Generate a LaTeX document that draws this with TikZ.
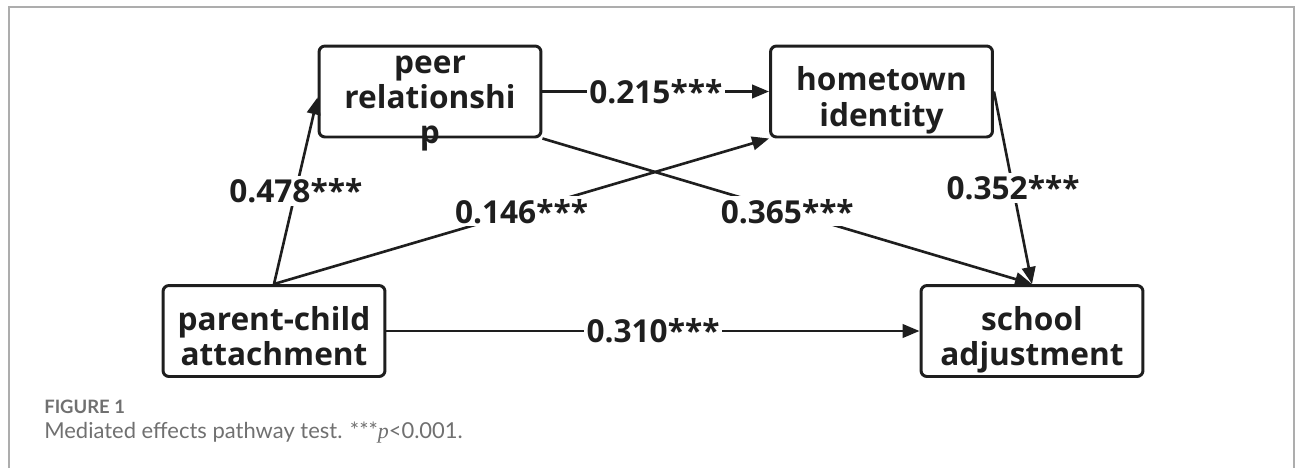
\documentclass[tikz,border=0pt]{standalone}
\usepackage{fontspec}
\setmainfont{Open Sans}
\newfontfamily\capfont{Lato}
\newfontfamily\pfont{Liberation Serif}
\usetikzlibrary{arrows.meta}
\definecolor{ink}{HTML}{1E1E1E}
\definecolor{framegray}{HTML}{ADADAD}
\definecolor{capgray}{HTML}{707070}
\newcommand{\boxlines}[1]{\raisebox{-10pt}[0pt][0pt]{\begin{tabular}{@{}c@{}}#1\end{tabular}}}

\begin{document}
\begin{tikzpicture}[x=0.02cm,y=-0.02cm,->,>={Triangle[length=0.34cm,width=0.27cm]},
        line width=1.5pt,draw=ink,
        var/.style={-,draw=ink,line width=1.7pt,rounded corners=0.12cm,minimum width=4.44cm,minimum height=1.82cm,
            inner sep=0pt,text=ink,font=\fontsize{18}{20}\selectfont\bfseries},
        coef/.style={fill=white,inner sep=1.5pt,text=ink,font=\fontsize{18}{20}\selectfont\bfseries}]
                \useasboundingbox (0,0) rectangle (1295,468);
                \draw[-,framegray,line width=1.2pt] (9,468)--(9,7)--(1294,7)--(1294,468);
                % variables
                \node[var] (peer) at (430,91.5) {\boxlines{peer\\relationshi\\p}};
                \node[var] (home) at (881.5,91.5) {\boxlines{hometown\\identity}};
                \node[var] (parent) at (274,331) {\boxlines{parent-child\\attachment}};
                \node[var] (school) at (1032,331) {\boxlines{school\\adjustment}};
                % paths
                \draw (parent.north)--(peer.183) node[coef,midway] {0.478***};
                \draw (parent.north)--(home.south west) node[coef,midway] {0.146***};
                \draw (peer.east)--(home.west) node[coef,midway] {0.215***};
                \draw (peer.south east)--(school.north) node[coef,midway] {0.365***};
                \draw (home.east)--(school.north) node[coef,midway] {0.352***};
                \draw (parent.east)--(school.west) node[coef,midway] {0.310***};
                % caption
                \node[anchor=base west,inner sep=0pt,text=capgray,font=\capfont\fontsize{10.5}{12}\selectfont\bfseries] (fig) at (43,413) {FIGURE 1};
                \node[anchor=base west,inner sep=0pt,text=capgray,font=\capfont\fontsize{12.5}{14}\selectfont] (cap) at (43,438) {Mediated effects pathway test. ***{\pfont\itshape p}<0.001.};
            \end{tikzpicture}
\end{document}
